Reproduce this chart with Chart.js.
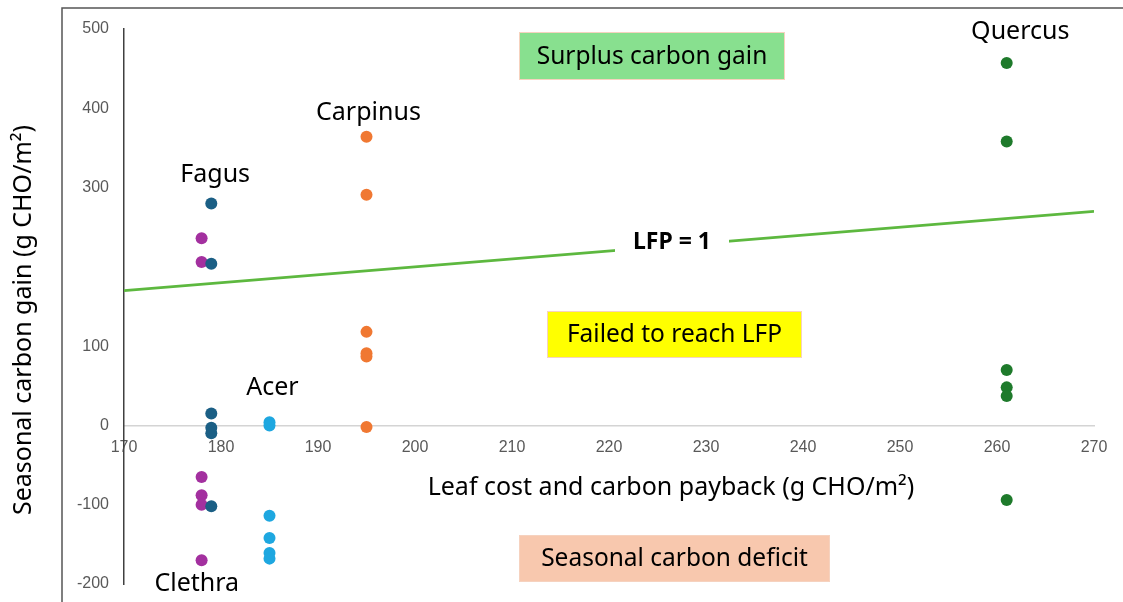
<!DOCTYPE html>
<html>
<head>
<meta charset="utf-8">
<script src="https://cdn.jsdelivr.net/npm/chart.js@4.4.1/dist/chart.umd.min.js"></script>
<style>
  html, body { margin: 0; padding: 0; background: #ffffff; }
  #wrap { width: 1123px; height: 602px; position: relative; }
</style>
</head>
<body>
<div id="wrap"><canvas id="c" width="1123" height="602"></canvas></div>
<script>
// ---------- data ----------
const xTicks = [170, 180, 190, 200, 210, 220, 230, 240, 250, 260, 270];
const yTicks = [-200, -100, 0, 100, 200, 300, 400, 500];
const hiddenYTickLabels = [200];

const species = ["Fagus", "Clethra", "Acer", "Carpinus", "Quercus"];
const leafCost = [179, 178, 185, 195, 261];           // x value for each species
const fagusGain    = [280, 204, 15, -3, -10, -102];
const clethraGain  = [236, 206, -65, -88, -100, -170];
const acerGain     = [4, 0, -114, -142, -161, -168];
const carpinusGain = [364, 291, 118, 91, 87, -2];
const quercusGain  = [457, 358, 70, 48, 37, -94];
const lfpX = [170, 270];
const lfpY = [170, 270];

const colors = ["#1b5f85", "#a3309f", "#1ea7e0", "#f07832", "#1e7a2b"];
const gains = [fagusGain, clethraGain, acerGain, carpinusGain, quercusGain];

// label anchors (data coords) for species names
const labelPos = {
  Fagus:    [179.4, 316],
  Carpinus: [195.2, 394],
  Acer:     [185.3, 47],
  Clethra:  [177.5, -200],
  Quercus:  [262.4, 496]
};

const datasets = species.map((s, i) => ({
  label: s,
  type: 'scatter',
  data: gains[i].map(v => ({ x: leafCost[i], y: v })),
  backgroundColor: colors[i],
  borderColor: colors[i],
  pointRadius: 6,
  pointHoverRadius: 6,
  borderWidth: 0
}));
datasets.push({
  label: 'LFP = 1',
  type: 'line',
  data: lfpX.map((x, i) => ({ x: x, y: lfpY[i] })),
  borderColor: '#5db83f',
  borderWidth: 2.6,
  pointRadius: 0,
  fill: false
});

const SANS = '"Noto Sans", "Open Sans", sans-serif';

const decor = {
  id: 'decor',
  beforeDraw(chart) {
    const ctx = chart.ctx;
    ctx.save();
    ctx.fillStyle = '#ffffff';
    ctx.fillRect(0, 0, chart.width, chart.height);
    ctx.strokeStyle = '#555555';
    ctx.lineWidth = 1.5;
    ctx.strokeRect(62, 8, 1200, 700);
    ctx.restore();
  },
  afterDatasetsDraw(chart) {
    const ctx = chart.ctx;
    const xs = chart.scales.x, ys = chart.scales.y;
    ctx.save();
    // LFP label with white gap
    const lx = 672, ly = 242;
    ctx.fillStyle = '#ffffff';
    ctx.fillRect(lx - 57, ly - 20, 114, 40);
    ctx.fillStyle = '#000000';
    ctx.font = 'bold 23px ' + SANS;
    ctx.textAlign = 'center';
    ctx.textBaseline = 'middle';
    ctx.fillText('LFP = 1', lx, ly);

    // species labels
    ctx.font = '25px ' + SANS;
    ctx.fillStyle = '#000000';
    for (const s of species) {
      const p = labelPos[s];
      ctx.fillText(s, xs.getPixelForValue(p[0]), ys.getPixelForValue(p[1]));
    }

    // region boxes
    const boxes = [
      { t: 'Surplus carbon gain', x: 519, y: 32, w: 266, h: 48, c: '#88e08f' },
      { t: 'Failed to reach LFP', x: 547, y: 311, w: 255, h: 47, c: '#ffff00' },
      { t: 'Seasonal carbon deficit', x: 519, y: 535, w: 311, h: 47, c: '#f8c8ae' }
    ];
    ctx.font = '24.5px ' + SANS;
    for (const b of boxes) {
      ctx.fillStyle = b.c;
      ctx.fillRect(b.x, b.y, b.w, b.h);
      ctx.strokeStyle = '#f6d2bf';
      ctx.lineWidth = 1;
      ctx.strokeRect(b.x + 0.5, b.y + 0.5, b.w - 1, b.h - 1);
      ctx.fillStyle = '#000000';
      ctx.fillText(b.t, b.x + b.w / 2, b.y + b.h / 2 + 1);
    }

    // axis titles
    ctx.font = '25px ' + SANS;
    ctx.fillText('Leaf cost and carbon payback (g CHO/m\u00B2)', 671, 488);
    ctx.translate(24, 320);
    ctx.rotate(-Math.PI / 2);
    ctx.fillText('Seasonal carbon gain (g CHO/m\u00B2)', 0, 0);
    ctx.restore();
  }
};

new Chart(document.getElementById('c'), {
  type: 'scatter',
  data: { datasets },
  options: {
    responsive: false,
    animation: false,
    events: [],
    layout: { padding: { top: 29, bottom: 18, right: 29, left: 0 } },
    plugins: { legend: { display: false }, tooltip: { enabled: false } },
    scales: {
      x: {
        type: 'linear',
        min: 170, max: 270,
        position: { y: 0 },
        afterBuildTicks: (s) => { s.ticks = xTicks.map(v => ({ value: v })); },
        afterFit: (s) => { s.height = 0; s.paddingTop = 0; s.paddingBottom = 0; },
        grid: { display: false, drawTicks: false },
        border: { display: true, color: '#d4d4d4', width: 1.5 },
        ticks: { color: '#595959', font: { family: '"Liberation Sans", Arial', size: 16 }, padding: 13 }
      },
      y: {
        type: 'linear',
        min: -200, max: 500,
        afterBuildTicks: (s) => { s.ticks = yTicks.map(v => ({ value: v })); },
        afterFit: (s) => { s.width = 124; s.paddingTop = 0; s.paddingBottom = 0; },
        grid: { display: false, drawTicks: false },
        border: { display: true, color: '#404040', width: 1.5 },
        ticks: {
          color: '#595959', font: { family: '"Liberation Sans", Arial', size: 16 }, padding: 15,
          callback: (v) => hiddenYTickLabels.includes(v) ? '' : String(v)
        }
      }
    }
  },
  plugins: [decor]
});
</script>
</body>
</html>
